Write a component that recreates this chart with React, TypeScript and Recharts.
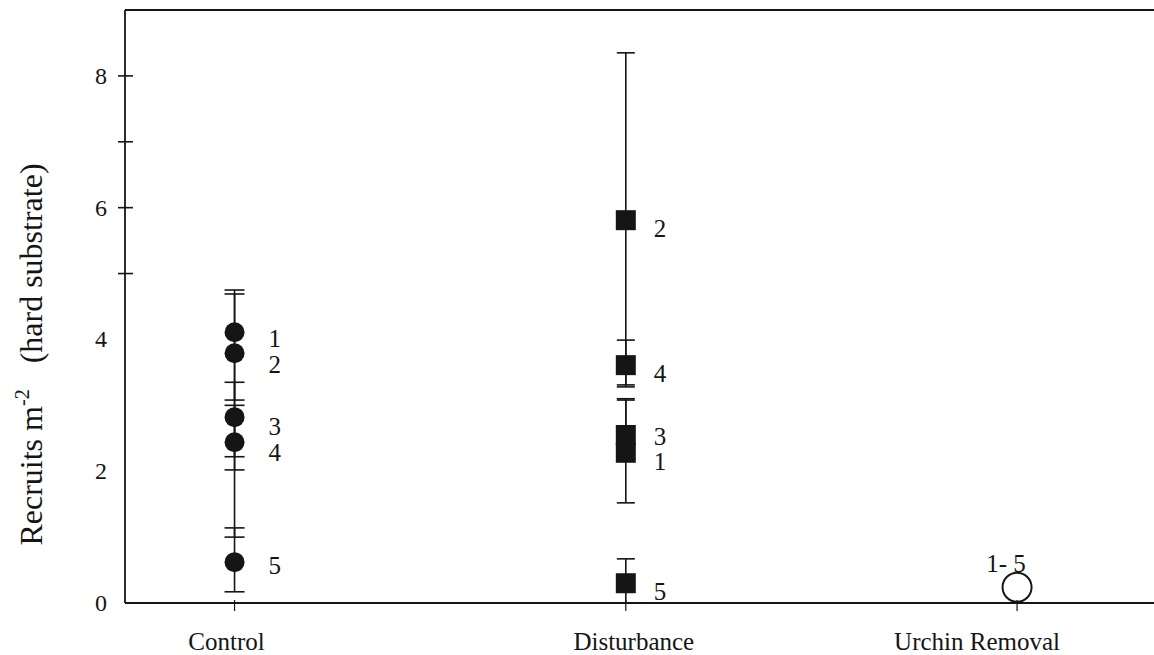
import { ScatterChart, Scatter, XAxis, YAxis, ErrorBar, ReferenceLine } from 'recharts';

const INK = '#151515';
const FONT = '"Liberation Serif", "Times New Roman", serif';

// treatments along the x axis (x = 1, 2, 3)
const categories = ['Control', 'Disturbance', 'Urchin Removal'];
const categoryX = [1, 2, 3];

// sites 1..5, recruits per m2 of hard substrate, with lower / upper error limits
const sites = ['1', '2', '3', '4', '5'];
const controlMeans = [4.11, 3.79, 2.82, 2.44, 0.62];
const controlLower = [3.08, 2.22, 2.02, 1.0, 0.17];
const controlUpper = [4.75, 4.69, 3.35, 3.0, 1.14];

const disturbanceMeans = [2.28, 5.81, 2.55, 3.61, 0.3];
const disturbanceLower = [1.52, 3.31, 2.3, 3.28, 0];
const disturbanceUpper = [3.08, 8.35, 3.1, 3.99, 0.67];

// all five removal sites sit on top of each other
const removalMean = 0.24;
const removalLabel = '1- 5';

const yTickLabels = [0, 2, 4, 6, 8];
const yTickMarks = [5, 6, 7, 8];

// small vertical nudges for the site numbers so they don't collide
const controlLabelDy = [6, 11, 9, 10, 3];
const disturbanceLabelDy = [9, 8, 2, 8, 8];
const categoryDx = [-8, 8, -40];

const build = (means: number[], lower: number[], upper: number[], dys: number[]) =>
  means.map((m, i) => ({
    x: 1,
    y: m,
    err: [m - lower[i], upper[i] - m],
    site: sites[i],
    dy: dys[i],
  }));

const controlData = build(controlMeans, controlLower, controlUpper, controlLabelDy);
const disturbanceData = build(disturbanceMeans, disturbanceLower, disturbanceUpper, disturbanceLabelDy).map(
  (d) => ({ ...d, x: 2 }),
);
const removalData = [{ x: 3, y: removalMean, site: removalLabel }];

const labelStyle = { fontSize: 25, fill: INK, fontFamily: FONT };

const ControlDot = (props: any) => {
  const { cx, cy, payload } = props;
  return (
    <g>
      <circle cx={cx} cy={cy} r={10} fill={INK} />
      <text x={cx + 34} y={cy + payload.dy} dominantBaseline="central" {...labelStyle}>
        {payload.site}
      </text>
    </g>
  );
};

const DisturbanceSquare = (props: any) => {
  const { cx, cy, payload } = props;
  return (
    <g>
      <rect x={cx - 10} y={cy - 10} width={20} height={20} fill={INK} />
      <text x={cx + 28} y={cy + payload.dy} dominantBaseline="central" {...labelStyle}>
        {payload.site}
      </text>
    </g>
  );
};

const RemovalRing = (props: any) => {
  const { cx, cy, payload } = props;
  return (
    <g>
      <circle cx={cx} cy={cy} r={14.5} fill="none" stroke={INK} strokeWidth={2} />
      <text x={cx - 11} y={cy - 24} textAnchor="middle" dominantBaseline="central" {...labelStyle}>
        {payload.site}
      </text>
    </g>
  );
};

const YTick = (props: any) => {
  const { x, y, payload } = props;
  const v = payload.value;
  return (
    <g>
      {yTickMarks.includes(v) && <line x1={x - 7} x2={x + 8} y1={y} y2={y} stroke={INK} strokeWidth={1.6} />}
      {yTickLabels.includes(v) && (
        <text x={x - 18} y={y} textAnchor="end" dominantBaseline="central" fontSize={24} fill={INK} fontFamily={FONT}>
          {v}
        </text>
      )}
    </g>
  );
};

const XTick = (props: any) => {
  const { x, y, payload } = props;
  const i = categoryX.indexOf(payload.value);
  return (
    <g>
      <line x1={x} x2={x} y1={y - 3} y2={y + 8} stroke={INK} strokeWidth={1.2} />
      <text x={x + categoryDx[i]} y={y + 38} textAnchor="middle" dominantBaseline="central" fontSize={25} fill={INK} fontFamily={FONT}>
        {categories[i]}
      </text>
    </g>
  );
};

const YLabel = (props: any) => {
  const { viewBox } = props;
  const cx = viewBox.x + 42;
  const cy = viewBox.y + viewBox.height / 2 + 48;
  return (
    <text x={cx} y={cy} textAnchor="middle" transform={`rotate(-90 ${cx} ${cy})`} fontSize={32} fill={INK} fontFamily={FONT}>
      Recruits m
      <tspan dy={-13} fontSize={20}>-2</tspan>
      <tspan dy={13} dx={26}>(hard substrate)</tspan>
    </text>
  );
};

export default function App() {
  return (
    <div style={{ position: 'absolute', left: 0, top: 0, background: '#fff' }}>
      <ScatterChart width={1154} height={655} margin={{ top: 10, right: 0, bottom: 0, left: 0 }} style={{ fontFamily: FONT }}>
        <XAxis
          type="number"
          dataKey="x"
          domain={[0.72, 3.35]}
          ticks={categoryX}
          allowDataOverflow
          height={52}
          tickSize={0}
          tickMargin={0}
          tickLine={false}
          axisLine={{ stroke: INK, strokeWidth: 1.8 }}
          tick={<XTick />}
        />
        <YAxis
          type="number"
          dataKey="y"
          domain={[0, 9]}
          ticks={[0, 2, 4, 5, 6, 7, 8]}
          allowDataOverflow
          width={125}
          tickSize={0}
          tickMargin={0}
          tickLine={false}
          axisLine={{ stroke: INK, strokeWidth: 1.8 }}
          tick={<YTick />}
          label={{ content: <YLabel /> }}
        />
        <ReferenceLine y={9} stroke={INK} strokeWidth={1.8} />
        <Scatter data={controlData} shape={<ControlDot />} isAnimationActive={false}>
          <ErrorBar dataKey="err" direction="y" width={10} stroke={INK} strokeWidth={1.6} />
        </Scatter>
        <Scatter data={disturbanceData} shape={<DisturbanceSquare />} isAnimationActive={false}>
          <ErrorBar dataKey="err" direction="y" width={9} stroke={INK} strokeWidth={1.6} />
        </Scatter>
        <Scatter data={removalData} shape={<RemovalRing />} isAnimationActive={false} />
      </ScatterChart>
    </div>
  );
}
